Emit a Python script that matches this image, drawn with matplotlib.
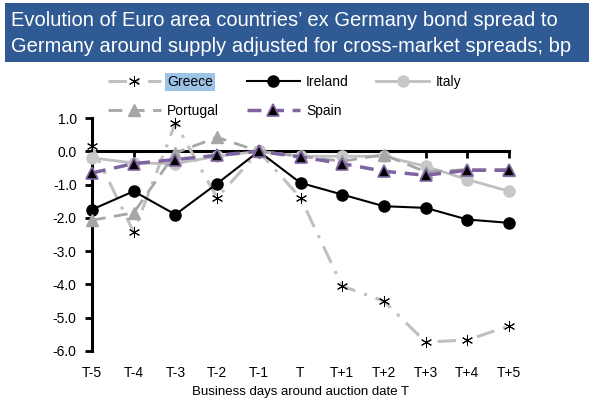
import numpy as np
import matplotlib.pyplot as plt
from matplotlib.patches import Rectangle

plt.rcParams['font.family'] = ['Liberation Sans', 'DejaVu Sans']

# ===== data (bp)
days = ['T-5', 'T-4', 'T-3', 'T-2', 'T-1', 'T', 'T+1', 'T+2', 'T+3', 'T+4', 'T+5']
greece = [0.15, -2.43, 0.85, -1.4, 0.0, -1.4, -4.05, -4.5, -5.73, -5.67, -5.25]
ireland = [-1.75, -1.2, -1.9, -0.97, 0.0, -0.95, -1.3, -1.65, -1.7, -2.05, -2.15]
italy = [-0.2, -0.35, -0.37, -0.15, 0.0, -0.15, -0.15, -0.15, -0.45, -0.85, -1.2]
portugal = [-2.07, -1.85, -0.05, 0.42, 0.0, -0.15, -0.3, -0.1, -0.62, -0.55, -0.55]
spain = [-0.65, -0.37, -0.25, -0.12, 0.0, -0.17, -0.37, -0.6, -0.72, -0.57, -0.57]
yticks = [1.0, 0.0, -1.0, -2.0, -3.0, -4.0, -5.0, -6.0]

x = np.arange(len(days))
W, H = 593, 399
fig = plt.figure(figsize=(W/100, H/100), dpi=100)

# title box
fig.patches.append(Rectangle((5/W, 1-62/H), 584/W, 59/H, transform=fig.transFigure,
                             facecolor='#2F5A93', edgecolor='none', zorder=0))
fig.text(11/W, 1-21/H, "Evolution of Euro area countries\u2019 ex Germany bond spread to",
         color='white', fontsize=14.5, va='center', ha='left')
fig.text(11/W, 1-46/H, "Germany around supply adjusted for cross-market spreads; bp",
         color='white', fontsize=14.5, va='center', ha='left')

ax = fig.add_axes([92/W, 48/H, 417/W, 233/H])
ax.set_facecolor('none')

lg, = ax.plot(x, greece, color='#C0C0C0', lw=2.2, dashes=[6, 3, 1, 3], marker=(6, 2, 0),
              ms=8, mec='black', mfc='black', mew=0.7, clip_on=False, label='Greece', zorder=3)
li, = ax.plot(x, ireland, color='black', lw=1.5, marker='o', ms=8, mfc='black', mec='black',
              clip_on=False, label='Ireland', zorder=4)
lit, = ax.plot(x, italy, color='#BFBFBF', lw=2, marker='o', ms=8, mfc='#C8C8C8', mec='#C8C8C8',
               clip_on=False, label='Italy', zorder=4)
lp, = ax.plot(x, portugal, color='#A6A6A6', lw=2, dashes=[5, 3], marker='^', ms=8,
              mfc='#A6A6A6', mec='#A6A6A6', clip_on=False, label='Portugal', zorder=5)
ls, = ax.plot(x, spain, color='#8064A2', lw=2.5, dashes=[4, 2.5], marker='^', ms=8,
              mfc='black', mec='#8064A2', mew=1.2, clip_on=False, label='Spain', zorder=6)

ax.set_xlim(0, 10)
ax.set_ylim(-6, 1)
ax.set_yticks(yticks)
ax.set_yticklabels([f'{v:.1f}' for v in yticks], fontsize=10)
ax.spines['top'].set_visible(False)
ax.spines['right'].set_visible(False)
ax.spines['left'].set_linewidth(2.2)
ax.spines['bottom'].set_position(('data', 0))
ax.spines['bottom'].set_linewidth(2.2)
ax.tick_params(axis='y', direction='out', length=5, width=2, pad=6)
ax.set_xticks(x)
ax.set_xticklabels([])
ax.tick_params(axis='x', direction='out', length=5, width=2)

# category labels along the bottom
sec = ax.secondary_xaxis('bottom')
sec.set_xticks(x)
sec.set_xticklabels(days, fontsize=10)
sec.tick_params(length=0, pad=10.5)
sec.spines['bottom'].set_visible(False)
ax.text(0.5, -0.176, 'Business days around auction date T', transform=ax.transAxes,
        ha='center', va='center', fontsize=9.5)

leg = fig.legend([lg, lp, li, ls, lit], ['Greece', 'Portugal', 'Ireland', 'Spain', 'Italy'],
                 ncol=3, loc='center left', bbox_to_anchor=(108/W, 1-96.5/H), frameon=False,
                 fontsize=10, handlelength=3.8, columnspacing=2.0, labelspacing=1.04,
                 handletextpad=0.45, borderpad=0, borderaxespad=0)
leg.get_texts()[0].set_bbox(dict(facecolor='#9DC3E6', edgecolor='none', pad=1.5))

fig.savefig('out.png', dpi=100)
